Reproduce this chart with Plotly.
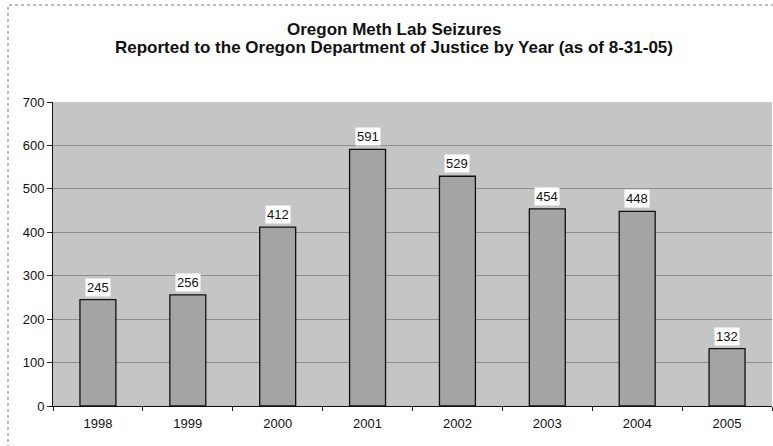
import plotly.graph_objects as go

years = ["1998", "1999", "2000", "2001", "2002", "2003", "2004", "2005"]
seizures = [245, 256, 412, 591, 529, 454, 448, 132]
y_ticks = [0, 100, 200, 300, 400, 500, 600, 700]

title_line1 = "<b>Oregon Meth Lab Seizures</b>"
title_line2 = "<b>Reported to the Oregon Department of Justice by Year (as of 8-31-05)</b>"

FONT = "Liberation Sans, Arial, sans-serif"
L, R_EDGE, T, B_EDGE = 53, 772, 102, 406

fig = go.Figure()
fig.add_trace(go.Bar(
    x=years, y=seizures,
    marker=dict(color="#a4a4a4", line=dict(color="#111111", width=1.3)),
    width=0.4,
    hoverinfo="x+y",
))

for i, v in enumerate(seizures):
    fig.add_annotation(
        x=i, y=v, text=str(v), showarrow=False,
        yanchor="bottom", yshift=3,
        bgcolor="#ffffff", borderpad=1,
        font=dict(family=FONT, size=13, color="#111111"),
    )

title_x = (394 - L) / (R_EDGE - L)
fig.add_annotation(
    x=title_x, xref="paper", y=1.0, yref="paper", yshift=T - 29, yanchor="middle",
    text=title_line1, showarrow=False,
    font=dict(family=FONT, size=17, color="#111111"),
)
fig.add_annotation(
    x=title_x, xref="paper", y=1.0, yref="paper", yshift=T - 47, yanchor="middle",
    text=title_line2, showarrow=False,
    font=dict(family=FONT, size=17, color="#111111"),
)

# outer chart border (Excel-style chart area frame)
fig.add_shape(type="rect", xref="paper", yref="paper",
              x0=(8 - L) / (R_EDGE - L), x1=1.05,
              y0=-0.3, y1=1 + (T - 5) / (B_EDGE - T),
              line=dict(color="#777777", width=1, dash="dot"), layer="below")

fig.update_layout(
    width=773, height=446,
    margin=dict(l=L, r=773 - R_EDGE, t=T, b=446 - B_EDGE, autoexpand=False),
    paper_bgcolor="#ffffff",
    plot_bgcolor="#c5c5c5",
    showlegend=False,
    font=dict(family=FONT, size=13, color="#111111"),
    xaxis=dict(
        type="category", tickson="boundaries",
        ticks="outside", ticklen=4, tickcolor="#222222",
        showline=True, linecolor="#111111", linewidth=1,
        showgrid=False, tickfont=dict(size=13), tickangle=0,
        ticklabelstandoff=5, automargin=False,
    ),
    yaxis=dict(
        range=[0, 700], tickvals=y_ticks,
        ticks="outside", ticklen=5, tickcolor="#222222",
        showline=True, linecolor="#111111", linewidth=1,
        showgrid=True, gridcolor="#8e8e8e", gridwidth=1,
        zeroline=False, tickfont=dict(size=13), automargin=False,
    ),
)

fig.write_html("out.html", config={"displayModeBar": False},
               post_script="document.body.style.margin='0';")
